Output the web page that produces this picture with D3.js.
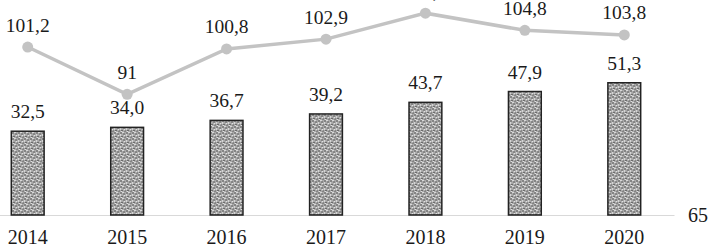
<!DOCTYPE html>
<html>
<head>
<meta charset="utf-8">
<script src="https://cdn.jsdelivr.net/npm/d3@7"></script>
<style>
  html, body { margin: 0; padding: 0; background: #fff; }
  svg text { font-family: "Liberation Serif", "DejaVu Serif", serif !important; }
</style>
</head>
<body>
<script>
// data
const years = ['2014', '2015', '2016', '2017', '2018', '2019', '2020'];
const barValues = [32.5, 34.0, 36.7, 39.2, 43.7, 47.9, 51.3];
const lineValues = [101.2, 91, 100.8, 102.9, 108.5, 104.8, 103.8];
const rightTicks = [65];

const width = 712;
const height = 247;
const fontSize = '19.5px';

// plot area (the picture is a crop, so it runs past the edges)
const plot = {left: -22, right: 674, top: -17, bottom: 215};

const svg = d3.select('body')
  .append('svg')
  .attr('width', width)
  .attr('height', height);

// stipple fill for the bars
const pat = svg.append('defs').append('pattern')
  .attr('id', 'dots')
  .attr('patternUnits', 'userSpaceOnUse')
  .attr('width', 6)
  .attr('height', 6);
pat.append('rect').attr('width', 6).attr('height', 6).attr('fill', '#a8a8a8');
[[1, 1], [4, 2], [2, 4.5], [5, 5]].forEach(p => {
  pat.append('circle').attr('cx', p[0]).attr('cy', p[1]).attr('r', 0.8).attr('fill', '#555');
});
[[3, 0.5], [0.5, 3], [4.5, 3.8], [1.5, 5.8]].forEach(p => {
  pat.append('circle').attr('cx', p[0]).attr('cy', p[1]).attr('r', 0.8).attr('fill', '#e8e8e8');
});

const x = d3.scaleBand()
  .domain(years)
  .range([plot.left, plot.right])
  .paddingInner(0.67)
  .paddingOuter(0.335);

const yBar = d3.scaleLinear().domain([0, 90]).range([plot.bottom, plot.top]);
const yLine = d3.scaleLinear().domain([65, 115]).range([plot.bottom, plot.top]);

const cx = d => x(d) + x.bandwidth() / 2;

// x axis
const xAxis = svg.append('g')
  .attr('transform', `translate(0,${plot.bottom})`)
  .call(d3.axisBottom(x).tickSize(0).tickPadding(15));
xAxis.select('.domain').attr('stroke', '#d9d9d9').attr('stroke-width', 1.2);
xAxis.selectAll('text')
  .attr('font-size', '20px')
  .attr('fill', '#1a1a1a');

// right axis (only the 65 shows)
const rAxis = svg.append('g')
  .attr('transform', 'translate(680,0)')
  .call(d3.axisRight(yLine).tickValues(rightTicks).tickSize(0).tickPadding(8));
rAxis.select('.domain').remove();
rAxis.selectAll('text')
  .attr('font-size', '20px')
  .attr('fill', '#1a1a1a');

// bars
svg.selectAll('rect.bar')
  .data(barValues)
  .enter()
  .append('rect')
  .attr('class', 'bar')
  .attr('x', (d, i) => x(years[i]))
  .attr('y', d => yBar(d))
  .attr('width', x.bandwidth())
  .attr('height', d => yBar(0) - yBar(d))
  .attr('fill', 'url(#dots)')
  .attr('stroke', '#222')
  .attr('stroke-width', 1.5);

svg.selectAll('text.barlabel')
  .data(barValues)
  .enter()
  .append('text')
  .attr('class', 'barlabel')
  .attr('x', (d, i) => cx(years[i]))
  .attr('y', d => yBar(d) - 13)
  .attr('text-anchor', 'middle')
  .attr('font-size', fontSize)
  .attr('fill', '#1a1a1a')
  .text(d => d.toFixed(1).replace('.', ','));

// line
const line = d3.line()
  .x((d, i) => cx(years[i]))
  .y(d => yLine(d));

svg.append('path')
  .datum(lineValues)
  .attr('d', line)
  .attr('fill', 'none')
  .attr('stroke', '#c3c3c3')
  .attr('stroke-width', 3.5);

svg.selectAll('circle.pt')
  .data(lineValues)
  .enter()
  .append('circle')
  .attr('class', 'pt')
  .attr('cx', (d, i) => cx(years[i]))
  .attr('cy', d => yLine(d))
  .attr('r', 5.5)
  .attr('fill', '#c3c3c3');

svg.selectAll('text.linelabel')
  .data(lineValues)
  .enter()
  .append('text')
  .attr('class', 'linelabel')
  .attr('x', (d, i) => cx(years[i]))
  .attr('y', d => yLine(d) - 15.5)
  .attr('text-anchor', 'middle')
  .attr('font-size', fontSize)
  .attr('fill', '#1a1a1a')
  .text(d => String(d).replace('.', ','));
</script>
</body>
</html>
